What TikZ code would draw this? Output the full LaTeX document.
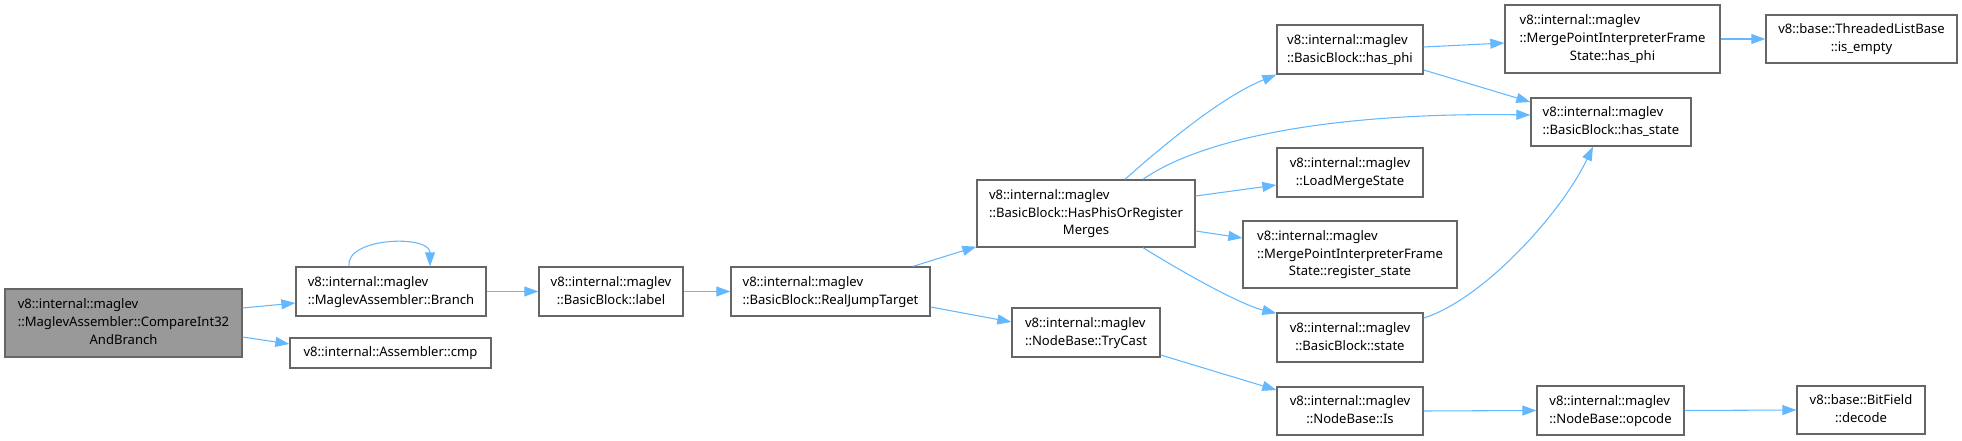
\documentclass[tikz,border=0pt]{standalone}
\usepackage{fontspec}
\setmainfont{Noto Sans}
\usetikzlibrary{arrows.meta}
\definecolor{edgec}{HTML}{63B8FF}
\definecolor{bordc}{HTML}{666666}
\definecolor{fillc}{HTML}{999999}
\newcommand\lbl[2]{\begin{tabular}{@{}l@{}}#1\\\multicolumn{1}{@{}c@{}}{#2}\end{tabular}}
\tikzset{
  box/.style={draw=bordc, line width=1pt, fill=white, inner sep=0pt, rectangle,
    font=\fontsize{9.8}{13.4}\selectfont},
  wh/.style 2 args={minimum width=#1*0.75pt, minimum height=#2*0.75pt},
  edge/.style={draw=edgec, line width=0.8pt, -{Triangle[length=10.5pt,width=7.5pt]}}
}
\begin{document}
\begin{tikzpicture}[x=0.75pt,y=-0.75pt]
\useasboundingbox (0,0) rectangle (1962,441);
% nodes
\node[box, wh={237}{68}, fill=fillc] (cmp32) at (123.5,323) {\lbl{v8::internal::maglev\\::MaglevAssembler::CompareInt32}{AndBranch}};
\node[box, wh={190}{49}] (branch) at (391,291.5) {\lbl{v8::internal::maglev}{::MaglevAssembler::Branch}};
\node[box, wh={201}{30}] (cmp) at (390.5,353) {v8::internal::Assembler::cmp};
\node[box, wh={144}{49}] (label) at (611,291.5) {\lbl{v8::internal::maglev}{::BasicBlock::label}};
\node[box, wh={199}{49}] (rjt) at (830.5,291.5) {\lbl{v8::internal::maglev}{::BasicBlock::RealJumpTarget}};
\node[box, wh={218}{67}] (hpm) at (1086,213.5) {\lbl{v8::internal::maglev\\::BasicBlock::HasPhisOrRegister}{Merges}};
\node[box, wh={148}{49}] (trycast) at (1086,332.5) {\lbl{v8::internal::maglev}{::NodeBase::TryCast}};
\node[box, wh={146}{49}] (hasphi) at (1350,49.5) {\lbl{v8::internal::maglev}{::BasicBlock::has\_phi}};
\node[box, wh={160}{48}] (hasstate) at (1611,122) {\lbl{v8::internal::maglev}{::BasicBlock::has\_state}};
\node[box, wh={146}{49}] (loadmerge) at (1350,172.5) {\lbl{v8::internal::maglev}{::LoadMergeState}};
\node[box, wh={214}{67}] (regstate) at (1350,254.5) {\lbl{v8::internal::maglev\\::MergePointInterpreterFrame}{State::register\_state}};
\node[box, wh={146}{49}] (state) at (1350,337.5) {\lbl{v8::internal::maglev}{::BasicBlock::state}};
\node[box, wh={146}{48}] (is) at (1350,411) {\lbl{v8::internal::maglev}{::NodeBase::Is}};
\node[box, wh={215}{68}] (mphasphi) at (1612.5,39) {\lbl{v8::internal::maglev\\::MergePointInterpreterFrame}{State::has\_phi}};
\node[box, wh={191}{48}] (tlb) at (1861.5,39) {\lbl{v8::base::ThreadedListBase}{::is\_empty}};
\node[box, wh={147}{49}] (opcode) at (1610.5,410.5) {\lbl{v8::internal::maglev}{::NodeBase::opcode}};
\node[box, wh={128}{48}] (decode) at (1861,410) {\lbl{v8::base::BitField}{::decode}};
% edges
\draw[edge] ([shift={(0,-15)}]cmp32.east) -- ([shift={(0,11.5)}]branch.west);
\draw[edge] ([shift={(0,14)}]cmp32.east) -- ([shift={(0,-9)}]cmp.west);
\draw[edge] ([shift={(-42,0)}]branch.north) .. controls +(-4,-29) and +(0,-32) .. ([shift={(39,0)}]branch.north);
\draw[edge] (branch.east) -- (label.west);
\draw[edge] (label.east) -- (rjt.west);
\draw[edge] ([shift={(82.5,0)}]rjt.north) -- ([shift={(0,-1)}]hpm.south west);
\draw[edge] ([shift={(0,15.5)}]rjt.east) -- ([shift={(0,-10.5)}]trycast.west);
\draw[edge] ([shift={(39,0)}]hpm.north) .. controls +(45,-40) and +(-52,21) .. (hasphi.south west);
\draw[edge] ([shift={(57,0)}]hpm.north) .. controls +(57,-40) and +(-201,-3) .. ([shift={(0,-7)}]hasstate.west);
\draw[edge] ([shift={(0,-17.5)}]hpm.east) -- ([shift={(0,12.5)}]loadmerge.west);
\draw[edge] ([shift={(0,17.5)}]hpm.east) -- ([shift={(0,-16.5)}]regstate.west);
\draw[edge] ([shift={(57,0)}]hpm.south) .. controls +(37,23) and +(-37,-9) .. ([shift={(0,1)}]state.north west);
\draw[edge] ([shift={(0,-2.5)}]hasphi.east) -- ([shift={(0,4)}]mphasphi.west);
\draw[edge] ([shift={(0,20.5)}]hasphi.east) -- ([shift={(0,-20)}]hasstate.west);
\draw[edge] (mphasphi.east) -- (tlb.west);
\draw[edge] ([shift={(0,-19.5)}]state.east) .. controls +(58,-18) and +(-33,69) .. ([shift={(-18,0)}]hasstate.south);
\draw[edge] ([shift={(0,22.5)}]trycast.east) -- ([shift={(0,-21)}]is.west);
\draw[edge] (is.east) -- (opcode.west);
\draw[edge] (opcode.east) -- (decode.west);
\end{tikzpicture}
\end{document}
